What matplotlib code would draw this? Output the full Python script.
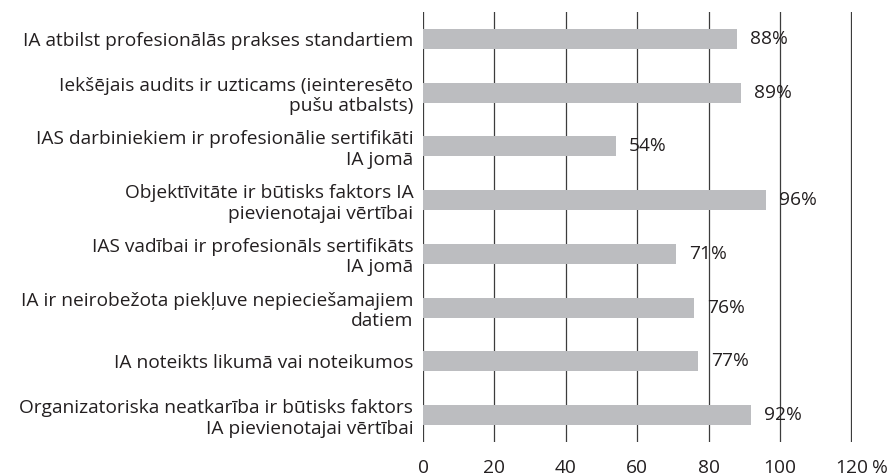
import matplotlib.pyplot as plt
import numpy as np

# data
labels = [
    "IA atbilst profesionālās prakses standartiem",
    "Iekšējais audits ir uzticams (ieinteresēto\npušu atbalsts)",
    "IAS darbiniekiem ir profesionālie sertifikāti\nIA jomā",
    "Objektīvitāte ir būtisks faktors IA\npievienotajai vērtībai",
    "IAS vadībai ir profesionāls sertifikāts\nIA jomā",
    "IA ir neirobežota piekļuve nepieciešamajiem\ndatiem",
    "IA noteikts likumā vai noteikumos",
    "Organizatoriska neatkarība ir būtisks faktors\nIA pievienotajai vērtībai",
]
values = [88, 89, 54, 96, 71, 76, 77, 92]
xticks = [0, 20, 40, 60, 80, 100, 120]

plt.rcParams['font.family'] = ['Open Sans', 'DejaVu Sans']
txt = '#231f20'
fs = 13.8
xpad = 12

fig = plt.figure(figsize=(8.88, 4.75), dpi=100)
ax = fig.add_axes([423/888, 1 - 442/475, (851.8-423)/888, 430/475])

y = np.arange(len(labels))
ax.barh(y, values, height=0.37, color='#bcbdc0', zorder=2)
for yi, v in zip(y, values):
    ax.text(v + 3.6, yi, f"{v}%", va='center', ha='left', fontsize=fs, color=txt, zorder=3)

ax.set_xlim(0, 120.1)
ax.set_ylim(len(labels) - 0.5, -0.5)
ax.set_xticks(xticks)
ax.set_yticks(y)
ax.set_yticklabels(labels, fontsize=fs, color=txt, linespacing=1.17)
ax.tick_params(axis='both', length=0)
ax.tick_params(axis='y', pad=7)
ax.tick_params(axis='x', pad=xpad, labelsize=fs, labelcolor=txt)
ax.xaxis.grid(True, color='#3c3c3c', linewidth=0.9, zorder=0)
for s in ax.spines.values():
    s.set_visible(False)
ax.annotate("%", xy=(1, 0), xycoords='axes fraction', xytext=(20, -xpad),
            textcoords='offset points', ha='center', va='top', fontsize=fs, color=txt)

fig.savefig("out.png", dpi=100)
